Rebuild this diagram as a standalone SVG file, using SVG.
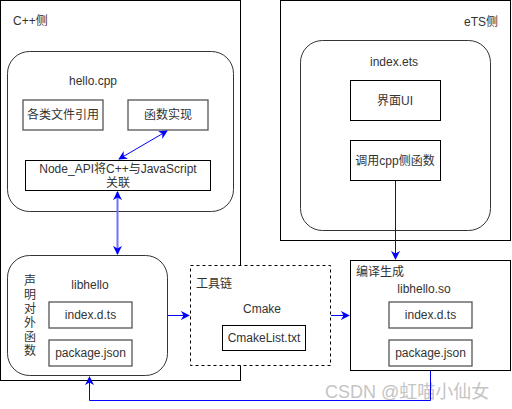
<svg xmlns="http://www.w3.org/2000/svg" width="512" height="409" viewBox="0 0 512 409">
<style>
text{font-family:"Liberation Sans","Noto Sans CJK SC",sans-serif;font-size:12px;fill:#333;}
.m{text-anchor:middle;dominant-baseline:central;}
.outer{fill:#fff;stroke:#000;stroke-width:1;}
.round{fill:#fff;stroke:#333;stroke-width:1;}
.box{fill:#fff;stroke:#000;stroke-width:1;}
.gbox{fill:#fff;stroke:#555;stroke-width:1.3;}
.dash{fill:#fff;stroke:#000;stroke-width:1;stroke-dasharray:3,3;}
.conn{fill:none;stroke:#0000ff;stroke-width:1;}
.wm{font-size:18px;fill:#c4c4c4;}
</style>
<defs>
<marker id="ah" viewBox="0 0 10 10" refX="9" refY="5" markerWidth="9" markerHeight="9" markerUnits="userSpaceOnUse" orient="auto-start-reverse">
<path d="M0,0 L10,5 L0,10 L3,5 z" fill="#0000ff"/>
</marker>
</defs>
<rect width="512" height="409" fill="#fff"/>
<g id="cpp-side">
<rect class="outer" x="0.5" y="0.5" width="240" height="380"/>
<text x="13" y="21" dominant-baseline="central">C++侧</text>
</g>
<g id="ets-side">
<rect class="outer" x="280.5" y="0.5" width="230" height="240"/>
<text x="464" y="22" dominant-baseline="central">eTS侧</text>
</g>
<g id="hello-cpp">
<rect class="round" x="7.5" y="51.5" width="226" height="160" rx="22"/>
<text class="m" x="93" y="81">hello.cpp</text>
</g>
<g id="file-ref">
<rect class="gbox" x="23" y="100" width="80" height="30"/>
<text class="m" x="63" y="115">各类文件引用</text>
</g>
<g id="func-impl">
<rect class="gbox" x="128" y="100" width="80" height="30"/>
<text class="m" x="168" y="115">函数实现</text>
</g>
<g id="node-api">
<rect class="box" x="25.5" y="160.5" width="185" height="30"/>
<text class="m" x="118" y="169">Node_API将C++与JavaScript</text>
<text class="m" x="118" y="183">关联</text>
</g>
<g id="index-ets">
<rect class="round" x="300.5" y="40.5" width="190" height="190" rx="22"/>
<text class="m" x="394" y="62">index.ets</text>
</g>
<g id="ui">
<rect class="box" x="350.5" y="80.5" width="90" height="40"/>
<text class="m" x="395" y="101">界面UI</text>
</g>
<g id="call-cpp">
<rect class="box" x="350.5" y="140.5" width="90" height="40"/>
<text class="m" x="395" y="161">调用cpp侧函数</text>
</g>
<g id="libhello">
<rect class="round" x="7.5" y="255.5" width="160" height="120" rx="22"/>
<text class="m" x="30" y="281">声</text>
<text class="m" x="30" y="295">明</text>
<text class="m" x="30" y="309">对</text>
<text class="m" x="30" y="323">外</text>
<text class="m" x="30" y="337">函</text>
<text class="m" x="30" y="351">数</text>
<text class="m" x="90" y="285">libhello</text>
</g>
<g id="lib-dts">
<rect class="gbox" x="49" y="302" width="83" height="26"/>
<text class="m" x="90.5" y="315">index.d.ts</text>
</g>
<g id="lib-pkg">
<rect class="gbox" x="49" y="340" width="83" height="26"/>
<text class="m" x="90.5" y="353">package.json</text>
</g>
<g id="toolchain">
<rect class="dash" x="190.5" y="265.5" width="140" height="100"/>
<text x="196" y="284" dominant-baseline="central">工具链</text>
<text class="m" x="262" y="309">Cmake</text>
</g>
<g id="cmakelist">
<rect class="box" x="222.5" y="325.5" width="83" height="25"/>
<text class="m" x="264" y="338">CmakeList.txt</text>
</g>
<g id="compile">
<rect class="box" x="350.5" y="260.5" width="160" height="110"/>
<text x="356" y="272" dominant-baseline="central">编译生成</text>
<text class="m" x="424" y="289">libhello.so</text>
</g>
<g id="so-dts">
<rect class="gbox" x="389" y="302" width="83" height="26"/>
<text class="m" x="430.5" y="315">index.d.ts</text>
</g>
<g id="so-pkg">
<rect class="gbox" x="389" y="340" width="83" height="26"/>
<text class="m" x="430.5" y="353">package.json</text>
</g>
<text class="wm" x="325" y="392" dominant-baseline="central">CSDN @虹喵小仙女</text>
<g id="connectors">
<line class="conn" x1="167" y1="131" x2="119" y2="159" stroke="#3333ff" marker-start="url(#ah)" marker-end="url(#ah)"/>
<line x1="117.5" y1="192" x2="117.5" y2="254" stroke="#7070ff" stroke-width="2" fill="none" marker-start="url(#ah)" marker-end="url(#ah)"/>
<line class="conn" x1="395.5" y1="181" x2="395.5" y2="259" marker-end="url(#ah)"/>
<line class="conn" x1="168" y1="315.5" x2="189" y2="315.5" marker-end="url(#ah)"/>
<line class="conn" x1="331" y1="315.5" x2="349" y2="315.5" marker-end="url(#ah)"/>
<polyline class="conn" points="430.5,371 430.5,400.5 89.5,400.5 89.5,377" marker-end="url(#ah)"/>
</g>
</svg>
